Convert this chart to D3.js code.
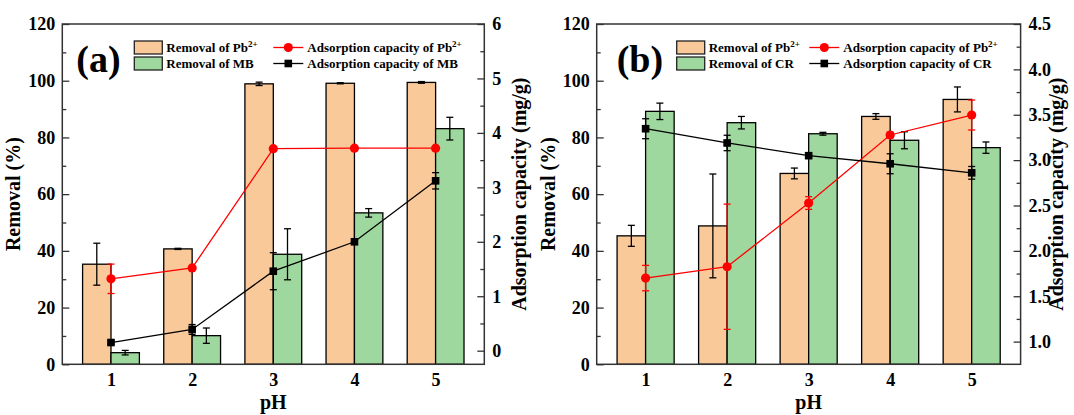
<!DOCTYPE html>
<html><head><meta charset="utf-8">
<script src="https://cdn.jsdelivr.net/npm/d3@7"></script>
<style>body{margin:0;background:#fff}svg{display:block}svg text{font-family:"Liberation Serif","Times New Roman","DejaVu Serif",serif !important;font-weight:bold}</style>
</head><body><svg id="c" width="1074" height="415"></svg>
<script>
const categories = [1, 2, 3, 4, 5];
// Panel (a)
const a_removalPb = [35.3, 40.7, 98.9, 99.1, 99.4];
const a_removalPbErr = [7.4, 0.2, 0.6, 0.2, 0.3];
const a_removalMB = [4.1, 10.1, 38.8, 53.4, 83.1];
const a_removalMBErr = [0.8, 2.7, 9.0, 1.5, 4.0];
const a_adsPb = [1.32, 1.52, 3.71, 3.72, 3.72];
const a_adsPbErr = [0.27, 0, 0, 0, 0];
const a_adsMB = [0.15, 0.39, 1.46, 2.0, 3.12];
const a_adsMBErr = [0.03, 0.09, 0.34, 0.03, 0.15];
// Panel (b)
const b_removalPb = [45.3, 48.8, 67.3, 87.4, 93.4];
const b_removalPbErr = [3.7, 18.3, 1.9, 1.0, 4.4];
const b_removalCR = [89.2, 85.2, 81.3, 79.0, 76.4];
const b_removalCRErr = [2.9, 2.2, 0.5, 3.0, 2.0];
const b_adsPb = [1.70, 1.825, 2.527, 3.277, 3.497];
const b_adsPbErr = [0.14, 0.69, 0.07, 0.03, 0.165];
const b_adsCR = [3.346, 3.189, 3.049, 2.96, 2.86];
const b_adsCRErr = [0.11, 0.085, 0.01, 0.11, 0.07];

const leftTicks = [0, 20, 40, 60, 80, 100, 120];
const a_rightTicks = [0, 1, 2, 3, 4, 5, 6];
const b_rightTicks = [1.0, 1.5, 2.0, 2.5, 3.0, 3.5, 4.0, 4.5];

const ORANGE = "#F9C99A", GREEN = "#9FD89F";
const FONT = "'Liberation Serif','Times New Roman','DejaVu Serif',serif";
const svg = d3.select("#c");

function panel(o) {
  const g = svg.append("g").attr("font-family", FONT).attr("font-weight", "bold");
  const x = d3.scaleLinear().domain([0.4, 5.6]).range([o.L, o.R]);
  const yL = d3.scaleLinear().domain([0, 120]).range([364.3, 24]);
  const yR = d3.scaleLinear().domain(o.rDomain).range([364.3, 24]);
  const bw = x(1.35) - x(1);

  // bars
  const bars = [[o.rem1, o.rem1Err, ORANGE, -1], [o.rem2, o.rem2Err, GREEN, 0]];
  bars.forEach(([vals, errs, col, off]) => {
    g.append("g").selectAll("rect").data(categories).join("rect")
      .attr("x", (d) => x(d) + off * bw).attr("width", bw)
      .attr("y", (d, i) => yL(vals[i])).attr("height", (d, i) => yL(0) - yL(vals[i]))
      .attr("fill", col).attr("stroke", "#000").attr("stroke-width", 1.3);
  });
  function errbars(vals, errs, xoff, scale, col, cap) {
    const eg = g.append("g").attr("stroke", col).attr("stroke-width", 1.3);
    categories.forEach((c, i) => {
      if (!errs[i]) return;
      const cx = x(c) + xoff, y1 = scale(vals[i] + errs[i]), y2 = scale(vals[i] - errs[i]);
      eg.append("line").attr("x1", cx).attr("x2", cx).attr("y1", y1).attr("y2", y2);
      eg.append("line").attr("x1", cx - cap).attr("x2", cx + cap).attr("y1", y1).attr("y2", y1);
      eg.append("line").attr("x1", cx - cap).attr("x2", cx + cap).attr("y1", y2).attr("y2", y2);
    });
  }
  errbars(o.rem1, o.rem1Err, -bw / 2, yL, "#000", 3.5);
  errbars(o.rem2, o.rem2Err, bw / 2, yL, "#000", 3.5);

  // lines
  const line = (vals) => d3.line().x((d, i) => x(categories[i])).y((d) => yR(d))(vals);
  g.append("path").attr("d", line(o.ads1)).attr("fill", "none").attr("stroke", "#f00").attr("stroke-width", 1.3);
  g.append("path").attr("d", line(o.ads2)).attr("fill", "none").attr("stroke", "#000").attr("stroke-width", 1.3);
  errbars(o.ads1, o.ads1Err, 0, yR, "#f00", 3.5);
  errbars(o.ads2, o.ads2Err, 0, yR, "#000", 3.5);
  g.append("g").selectAll("circle").data(o.ads1).join("circle")
    .attr("cx", (d, i) => x(categories[i])).attr("cy", (d) => yR(d)).attr("r", 4.6).attr("fill", "#f00");
  g.append("g").selectAll("rect").data(o.ads2).join("rect")
    .attr("x", (d, i) => x(categories[i]) - 3.8).attr("y", (d) => yR(d) - 3.8)
    .attr("width", 7.6).attr("height", 7.6).attr("fill", "#000");

  // frame
  g.append("rect").attr("x", o.L).attr("y", 24).attr("width", o.R - o.L).attr("height", 364.3 - 24)
    .attr("fill", "none").attr("stroke", "#333").attr("stroke-width", 1.5);

  // axes
  const styleAxis = (sel) => {
    sel.attr("font-family", FONT).attr("font-weight", "bold");
    sel.select(".domain").remove();
    sel.selectAll("line").attr("stroke", "#333").attr("stroke-width", 1.3);
    sel.selectAll("text").attr("font-size", 18).attr("fill", "#000");
  };
  g.append("g").attr("transform", `translate(${o.L},0)`)
    .call(d3.axisLeft(yL).tickValues(leftTicks).tickSize(-7).tickPadding(7)).call(styleAxis);
  g.append("g").attr("transform", `translate(${o.L},0)`)
    .call(d3.axisLeft(yL).tickValues(d3.range(10, 120, 20)).tickSize(-4).tickFormat("")).call(styleAxis);
  g.append("g").attr("transform", `translate(${o.R},0)`)
    .call(d3.axisRight(yR).tickValues(o.rTicks).tickSize(-7).tickPadding(8).tickFormat(o.rFmt)).call(styleAxis);
  g.append("g").attr("transform", `translate(${o.R},0)`)
    .call(d3.axisRight(yR).tickValues(o.rMinor).tickSize(-4).tickFormat("")).call(styleAxis);
  g.append("g").attr("transform", `translate(0,364.3)`)
    .call(d3.axisBottom(x).tickValues(categories).tickSize(0).tickPadding(9).tickFormat(d3.format("d"))).call(styleAxis);

  // titles
  const mid = (24 + 364.3) / 2;
  g.append("text").attr("transform", `translate(${o.L - 42},${mid}) rotate(-90)`).attr("text-anchor", "middle")
    .attr("font-size", 20).text("Removal (%)");
  g.append("text").attr("transform", `translate(${o.R + 42},${mid}) rotate(-90)`).attr("text-anchor", "middle")
    .attr("font-size", 20).text("Adsorption capacity (mg/g)");
  g.append("text").attr("x", (o.L + o.R) / 2).attr("y", 409).attr("text-anchor", "middle").attr("font-size", 20).text("pH");

  // panel label
  g.append("text").attr("x", o.L + o.lblDx).attr("y", 72).attr("font-size", 38).text(o.label);

  // legend
  const lx = o.L + o.legDx, rx = o.L + o.legDx2;
  [[ORANGE, o.leg1, 41], [GREEN, o.leg2, 57]].forEach(([c, t, yy]) => {
    g.append("rect").attr("x", lx).attr("y", yy).attr("width", 28).attr("height", 13).attr("fill", c).attr("stroke", "#222").attr("stroke-width", 1.3);
    const tx = g.append("text").attr("x", lx + 32).attr("y", yy + 11).attr("font-size", 13);
    tx.append("tspan").text(t[0]);
    if (t[1]) tx.append("tspan").attr("font-size", 9).attr("dy", -5).text(t[1]);
  });
  [["#f00", o.leg3, 47.5, "c"], ["#000", o.leg4, 63.5, "s"]].forEach(([c, t, yy, m]) => {
    g.append("line").attr("x1", rx).attr("x2", rx + 30).attr("y1", yy).attr("y2", yy).attr("stroke", c).attr("stroke-width", 1.3);
    if (m === "c") g.append("circle").attr("cx", rx + 15).attr("cy", yy).attr("r", 4.6).attr("fill", c);
    else g.append("rect").attr("x", rx + 11.2).attr("y", yy - 3.8).attr("width", 7.6).attr("height", 7.6).attr("fill", c);
    const tx = g.append("text").attr("x", rx + 34).attr("y", yy + 4.5).attr("font-size", 13);
    tx.append("tspan").text(t[0]);
    if (t[1]) tx.append("tspan").attr("font-size", 9).attr("dy", -5).text(t[1]);
  });
}

panel({ L: 62.3, R: 484.3, rDomain: [-0.25, 6], rTicks: a_rightTicks, rMinor: d3.range(0.5, 6, 1), rFmt: d3.format("d"),
  rem1: a_removalPb, rem1Err: a_removalPbErr, rem2: a_removalMB, rem2Err: a_removalMBErr,
  ads1: a_adsPb, ads1Err: a_adsPbErr, ads2: a_adsMB, ads2Err: a_adsMBErr,
  label: "(a)", lblDx: 14, legDx: 72, legDx2: 211,
  leg1: ["Removal of Pb", "2+"], leg2: ["Removal of MB"], leg3: ["Adsorption capacity of Pb", "2+"], leg4: ["Adsorption capacity of MB"] });
panel({ L: 596.7, R: 1020.6, rDomain: [0.75, 4.5], rTicks: b_rightTicks, rMinor: d3.range(1.25, 4.5, 0.5), rFmt: d3.format(".1f"),
  rem1: b_removalPb, rem1Err: b_removalPbErr, rem2: b_removalCR, rem2Err: b_removalCRErr,
  ads1: b_adsPb, ads1Err: b_adsPbErr, ads2: b_adsCR, ads2Err: b_adsCRErr,
  label: "(b)", lblDx: 20, legDx: 80, legDx2: 212.6,
  leg1: ["Removal of Pb", "2+"], leg2: ["Removal of CR"], leg3: ["Adsorption capacity of Pb", "2+"], leg4: ["Adsorption capacity of CR"] });
</script></body></html>
